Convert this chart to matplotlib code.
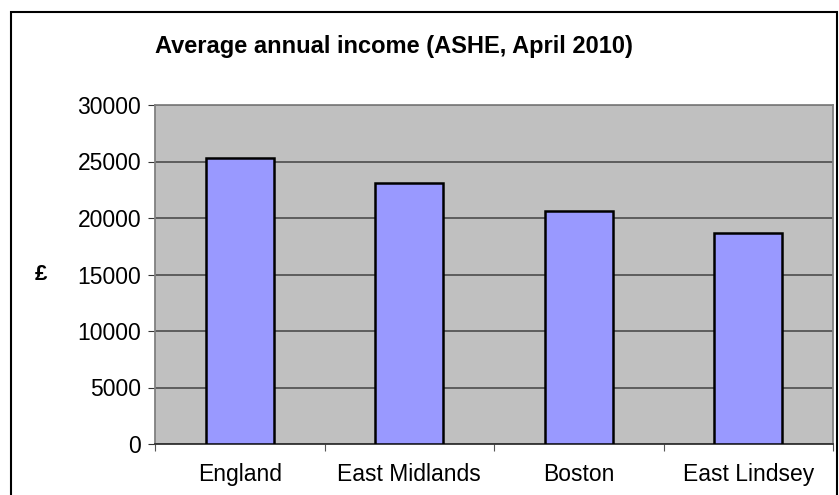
import numpy as np
import matplotlib
matplotlib.use("Agg")
from matplotlib import pyplot as plt
from matplotlib.patches import Rectangle

plt.rcParams['font.family'] = ['Liberation Sans', 'DejaVu Sans']

# Data
areas = ["England", "East Midlands", "Boston", "East Lindsey"]
income = [25300, 23080, 20650, 18710]
yticks = [0, 5000, 10000, 15000, 20000, 25000, 30000]

W, H = 839, 495
fig = plt.figure(figsize=(W / 100, H / 100), dpi=100)

# outer chart border
fig.patches.append(Rectangle((11 / W, -0.01), (826 / W), (H - 12) / H + 0.01,
                             transform=fig.transFigure, fill=False,
                             edgecolor='black', linewidth=1.5))

left, right, top, bottom = 155, 833, 105, 444
ax = fig.add_axes([left / W, 1 - bottom / H, (right - left) / W, (bottom - top) / H])
ax.set_facecolor('#C0C0C0')

x = np.arange(len(areas))
ax.bar(x, income, width=0.4, color='#9999FF', edgecolor='black', linewidth=1.8, zorder=3)

ax.set_xlim(-0.5, len(areas) - 0.5)
ax.set_ylim(0, 30000)
ax.set_yticks(yticks)
ax.set_yticklabels([str(v) for v in yticks], fontsize=16.5)
ax.yaxis.grid(True, color='#555555', linewidth=1.3, zorder=1)

# category labels between boundary ticks
ax.set_xticks(np.arange(-0.5, len(areas), 1.0))
ax.set_xticklabels([])
ax.set_xticks(x, minor=True)
ax.set_xticklabels(areas, minor=True, fontsize=16.5)
ax.tick_params(axis='x', which='minor', length=0, pad=14)
ax.tick_params(axis='x', which='major', length=5, color='#555555')
ax.tick_params(axis='y', length=5, color='#333333', pad=5)

for s in ax.spines.values():
    s.set_color('#808080')
    s.set_linewidth(1.3)
ax.spines['bottom'].set_color('#333333')

fig.text(394 / W, 1 - 53 / H, "Average annual income (ASHE, April 2010)",
         ha='center', va='baseline', fontsize=17, fontweight='bold')
fig.text(41 / W, 1 - 274 / H, "£", ha='center', va='center',
         fontsize=16, fontweight='bold')

fig.savefig("out.png", dpi=100)
